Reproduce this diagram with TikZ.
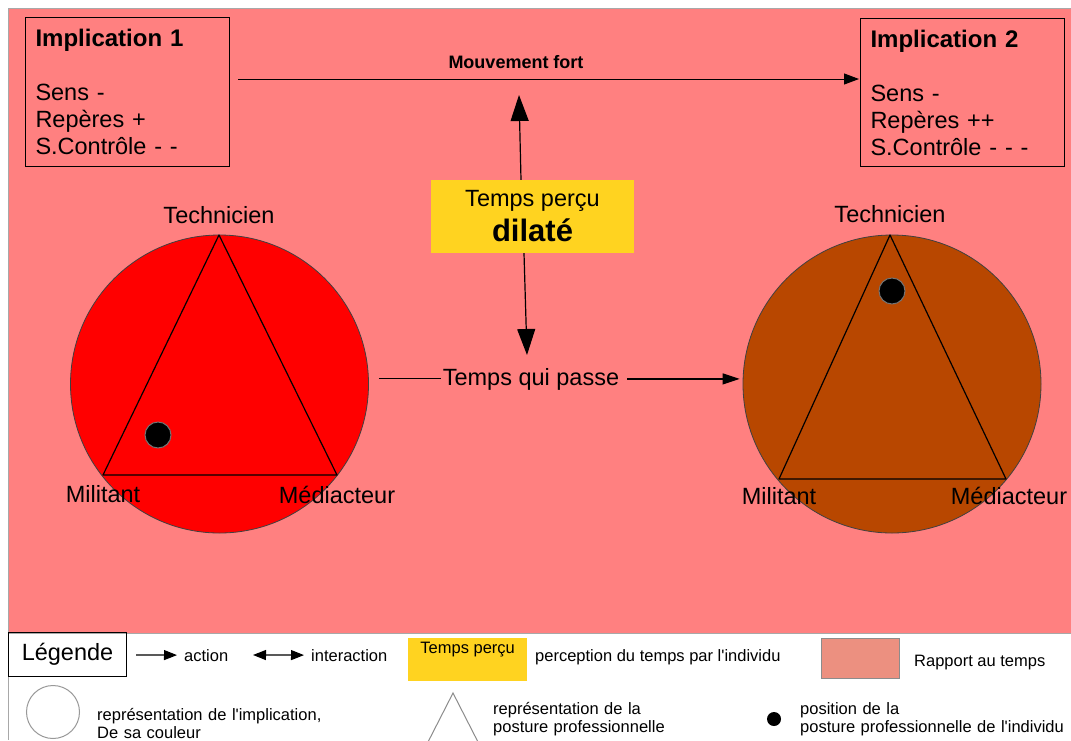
\documentclass[tikz,border=0pt]{standalone}
\usepackage{fontspec}
\setmainfont{Liberation Sans}[Ligatures=TeXOff]
\usetikzlibrary{arrows.meta}
\definecolor{bgpink}{HTML}{FF8080}
\definecolor{redc}{HTML}{FF0000}
\definecolor{brownc}{HTML}{B84700}
\definecolor{yel}{HTML}{FFD320}
\definecolor{salmonc}{HTML}{EC9080}
\definecolor{framec}{HTML}{A8A8A8}
\tikzset{
 txt/.style={font=\fontsize{23.5}{27}\selectfont, inner sep=0pt},
 leg/.style={font=\fontsize{16.5}{18}\selectfont, inner sep=0pt, anchor=base west},
 impbox/.style={draw=black, line width=1pt, anchor=north west, minimum width=204, minimum height=149,
   align=left, text width=184, inner sep=0pt, font=\fontsize{23.5}{27}\selectfont},
 arr/.style={line width=1pt, -{Triangle[length=15pt,width=11pt]}},
 bigarr/.style={line width=1.2pt, -{Triangle[length=26pt,width=18pt]}},
 larr/.style={line width=1.2pt, -{Triangle[length=13pt,width=10pt]}},
 ldarr/.style={line width=1.2pt, {Triangle[length=13pt,width=10pt]}-{Triangle[length=13pt,width=10pt]}},
 ring/.style={circle, draw=black!75, line width=0.8pt, minimum size=298, inner sep=0pt},
 tri/.style={draw=black, line width=1.2pt, line join=round},
 dot/.style={circle, fill=black, draw=black!55, line width=1pt, minimum size=26, inner sep=0pt},
}
\begin{document}
\begin{tikzpicture}[x=1pt,y=-1pt]
\useasboundingbox (0,0) rectangle (1071,740);
\fill[white] (0,0) rectangle (1071,740);
\fill[bgpink] (8,8) rectangle (1071,633);
\draw[framec, line width=1pt] (8,8) -- (1071,8);
\draw[framec, line width=1pt] (8,8) -- (8,740);
\draw[framec, line width=1pt] (8,633) -- (1071,633);

% implication boxes
\node[impbox] (imp1) at (25,17) {{\fontsize{24}{27}\selectfont\bfseries Implication 1}\\[27pt]Sens -\\Repères +\\S.Contrôle - -};
\node[impbox, minimum height=148] (imp2) at (860,18) {{\fontsize{24}{27}\selectfont\bfseries Implication 2}\\[27pt]Sens -\\Repères ++\\S.Contrôle - - -};

\coordinate (mfy) at (0,79);
\node[font=\fontsize{18}{20}\selectfont\bfseries, inner sep=0pt] (mf) at (516,62) {Mouvement fort};
\draw[arr, shorten <=8pt, shorten >=1pt] (imp1.east |- mfy) -- (imp2.west |- mfy);

% perceived time
\node[fill=yel, minimum width=203, minimum height=73, inner sep=0pt, align=center,
  font=\fontsize{23.5}{35}\selectfont] (tp) at (532.5,216.5) {Temps perçu\\{\fontsize{31}{35}\selectfont\bfseries dilaté}};
\coordinate (up) at (519,95);
\coordinate (dn) at (527,355);
\draw[bigarr] ([xshift=-11.5pt]tp.north) -- (up);
\draw[bigarr] ([xshift=-8.5pt]tp.south) -- (dn);

% circles
\node[ring, fill=redc] (lc) at (219.5,384) {};
\node[ring, fill=brownc] (rc) at (892,384) {};
\coordinate (lt) at (219,235);
\coordinate (lbl) at (103,475);
\coordinate (lbr) at (337,475);
\draw[tri] (lt) -- (lbl) -- (lbr) -- cycle;
\coordinate (rt) at (890,235);
\coordinate (rbl) at (779,479);
\coordinate (rbr) at (1006,479);
\draw[tri] (rt) -- (rbl) -- (rbr) -- cycle;
\node[dot] (ld) at (158,435) {};
\node[dot] (rd) at (892,291) {};

\node[txt, anchor=base] (ltech) at (219,223) {Technicien};
\node[txt, anchor=base] (lmil) at (103,502) {Militant};
\node[txt, anchor=base] (lmed) at (337,503) {Médiacteur};
\node[txt, anchor=base] (rtech) at (890,222) {Technicien};
\node[txt, anchor=base] (rmil) at (779,504) {Militant};
\node[txt, anchor=base] (rmed) at (1009,504) {Médiacteur};

\node[txt, anchor=base] (tqp) at (531,385) {Temps qui passe};
\draw[line width=1pt, shorten <=10pt, shorten >=2pt] (lc.east |- tqp.west) -- (tqp.west);
\draw[arr, line width=1.2pt, -{Triangle[length=17pt,width=11pt]}, shorten <=8pt, shorten >=3pt] (tqp.east) -- (rc.west |- tqp.east);

% legend
\node[draw=black, line width=1pt, anchor=north west, minimum width=118, minimum height=44, inner sep=0pt,
  font=\fontsize{23.5}{27}\selectfont] (legbox) at (8,632) {Légende};
\node[leg] (actt) at (184,661) {action};
\coordinate (a1) at (136,655);
\draw[larr, shorten >=7pt] (a1) -- (actt.west);
\node[leg] (intt) at (311,661) {interaction};
\coordinate (i1) at (253,655);
\draw[ldarr, shorten >=7pt] (i1) -- (intt.west);
\node[fill=yel, anchor=north west, minimum width=119, minimum height=43, inner sep=0pt,
  text height=15pt, text depth=28pt, font=\fontsize{16.5}{18}\selectfont] (legy) at (408,638) {Temps perçu};
\node[leg] (perc) at (535,661) {perception du temps par l'individu};
\node[fill=salmonc, draw=black!45, line width=1pt, anchor=north west, minimum width=78, minimum height=40, inner sep=0pt] (legs) at (821,638) {};
\node[leg] (rap) at (914,666) {Rapport au temps};

\node[circle, draw=black!40, line width=1pt, minimum size=53, inner sep=0pt] (legc) at (53,712) {};
\node[leg, text width=260, align=left] (legct) at (97,720) {représentation de l'implication,\\De sa couleur};
\coordinate (gt) at (453,693);
\coordinate (gl) at (428,742);
\coordinate (gr) at (478,742);
\draw[black!45, line width=1pt] (gl) -- (gt) -- (gr);
\node[leg, text width=220, align=left] (legtt) at (493,714) {représentation de la\\posture professionnelle};
\node[circle, fill=black, minimum size=14, inner sep=0pt] (legd) at (774,719) {};
\node[leg, text width=270, align=left] (legdt) at (800,714) {position de la\\posture professionnelle de l'individu};
\end{tikzpicture}
\end{document}
